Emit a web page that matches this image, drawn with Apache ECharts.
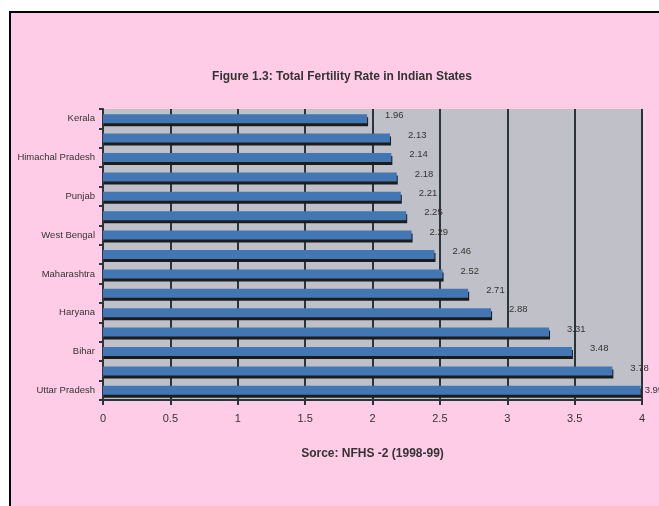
<!DOCTYPE html>
<html>
<head>
<meta charset="utf-8">
<script src="https://cdn.jsdelivr.net/npm/echarts@6/dist/echarts.min.js"></script>
<style>
  html, body { margin: 0; padding: 0; background: #fff; }
  #chart { width: 659px; height: 506px; }
</style>
</head>
<body>
<div id="chart"></div>
<script>
// Total fertility rate by state, NFHS-2 (1998-99)
const states = ['Kerala', 'Karnataka', 'Himachal Pradesh', 'Tamil Nadu', 'Punjab', 'Andhra Pradesh',
  'West Bengal', 'Orissa', 'Maharashtra', 'Gujarat', 'Haryana', 'Madhya Pradesh', 'Bihar',
  'Rajasthan', 'Uttar Pradesh'];
const tfr = [1.96, 2.13, 2.14, 2.18, 2.21, 2.25, 2.29, 2.46, 2.52, 2.71, 2.88, 3.31, 3.48, 3.78, 3.99];
const xMin = 0, xMax = 4, xStep = 0.5;

const titleText = 'Figure 1.3: Total Fertility Rate in Indian States';
const sourceText = 'Sorce: NFHS -2 (1998-99)';

const FONT = '"Liberation Sans", Arial, sans-serif';
const chart = echarts.init(document.getElementById('chart'), null, { renderer: 'canvas' });

// the longest bar reaches the frame edge, so its label sits tight against it
const barData = tfr.map((v, i) =>
  i === tfr.length - 1 ? { value: v, label: { distance: 4, offset: [0, 0] } } : v);

chart.setOption({
  backgroundColor: '#ffffff',
  animation: false,
  graphic: [
    // page frame: pink panel with a black edge on the top and left
    { type: 'rect', z: -10, shape: { x: 10, y: 12, width: 720, height: 560 },
      style: { fill: '#FFCCE8', stroke: '#000', lineWidth: 2 } }
  ],
  title: {
    text: titleText,
    left: 337, top: 66, textAlign: 'center',
    textStyle: { fontFamily: FONT, fontSize: 12, fontWeight: 'bold', color: '#333' }
  },
  grid: {
    left: 103, right: 17, top: 109, bottom: 106,
    show: true, backgroundColor: '#C0C0C8', borderWidth: 0
  },
  xAxis: {
    type: 'value', min: xMin, max: xMax, interval: xStep,
    name: sourceText, nameLocation: 'middle', nameGap: 48,
    nameTextStyle: { fontFamily: FONT, fontSize: 12, fontWeight: 'bold', color: '#333' },
    axisLine: { show: true, lineStyle: { color: '#2b3438', width: 2 } },
    axisTick: { show: true, length: 5, lineStyle: { color: '#2b3438', width: 2 } },
    axisLabel: { fontFamily: FONT, fontSize: 11, color: '#333', margin: 13 },
    splitLine: { show: true, lineStyle: { color: '#2b3438', width: 2 } }
  },
  yAxis: {
    type: 'category', data: states, inverse: true,
    axisLine: { show: true, lineStyle: { color: '#2b3438', width: 2 } },
    axisTick: { show: true, interval: 0, length: 4, lineStyle: { color: '#2b3438', width: 2 } },
    axisLabel: { interval: 1, fontFamily: FONT, fontSize: 9.5, color: '#333', margin: 8 },
    splitLine: { show: false }
  },
  series: [{
    type: 'bar',
    data: barData,
    barWidth: 9,
    itemStyle: {
      color: '#4277B4',
      shadowColor: '#1c1c1c', shadowOffsetY: 3, shadowOffsetX: 1, shadowBlur: 0
    },
    label: {
      show: true, position: 'right', distance: 18, offset: [0, -3],
      fontFamily: FONT, fontSize: 9.5, color: '#333'
    }
  }]
});
</script>
</body>
</html>
